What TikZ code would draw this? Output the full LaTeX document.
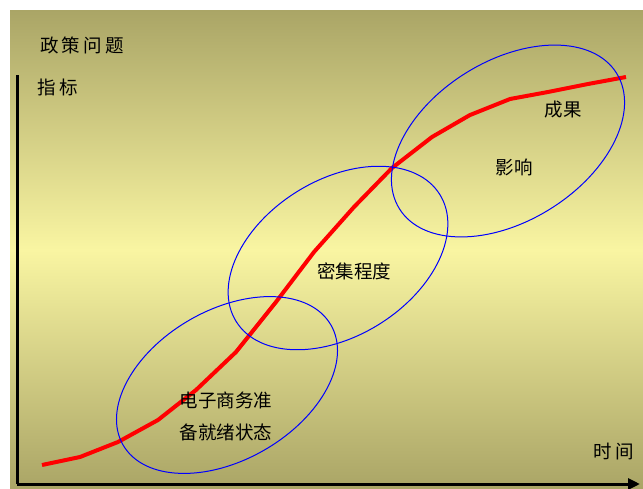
\documentclass[tikz,border=0pt]{standalone}
\usepackage{fontspec}
\newfontfamily\cjk{Noto Sans CJK SC}
\usetikzlibrary{arrows.meta}
\definecolor{olive}{HTML}{AAA566}
\definecolor{paleyel}{HTML}{F9F5A2}
\tikzset{
  lbl/.style={font=\cjk\fontsize{18.5}{22}\selectfont, text=black, inner sep=0pt, align=center},
  axis/.style={line width=3pt},
  zone/.style={draw=blue, line width=1pt},
  trend/.style={draw=red, line width=4pt, line join=round}
}
\begin{document}
\begin{tikzpicture}[x=1pt,y=-1pt]
\useasboundingbox (0,0) rectangle (643,488);
\fill[white] (0,0) rectangle (643,488);
\shade[top color=olive, bottom color=paleyel] (10,10) rectangle (643,250);
\shade[top color=paleyel, bottom color=olive] (10,250) rectangle (643,488);
% trend curve
\draw[trend] (42,465) -- (80,457) -- (118,442) -- (158,420) -- (196,390) -- (236,352) -- (276,302) -- (314,252) -- (354,207) -- (392,168) -- (432,137) -- (470,115) -- (510,99) -- (548,92) -- (588,84) -- (626,77);
% zones
\draw[zone,rotate around={30:(227,385)}] (227,385) ellipse [x radius=120, y radius=75];
\draw[zone,rotate around={32:(338,258)}] (338,258) ellipse [x radius=120, y radius=78];
\draw[zone,rotate around={32:(508,141)}] (508,141) ellipse [x radius=128, y radius=80];
% axes
\coordinate (o) at (17,484);
\coordinate (ytop) at (17,75);
\coordinate (xend) at (640,484);
\draw[axis] (ytop) -- (o);
\draw[axis,-{Triangle[length=12pt,width=11pt]}] (o) -- (xend);
% labels
\node[lbl] (t1) at (82,45) {政\,策\,问\,题};
\node[lbl] (t2) at (58,87) {指\,标};
\node[lbl] (t3) at (563,110) {成果};
\node[lbl] (t4) at (514,167) {影响};
\node[lbl] (t5) at (354,271) {密集程度};
\node[lbl] (t6) at (226,400) {电子商务准};
\node[lbl] (t7) at (226,432) {备就绪状态};
\node[lbl] (t8) at (614,452) {时\,间};
\end{tikzpicture}
\end{document}
